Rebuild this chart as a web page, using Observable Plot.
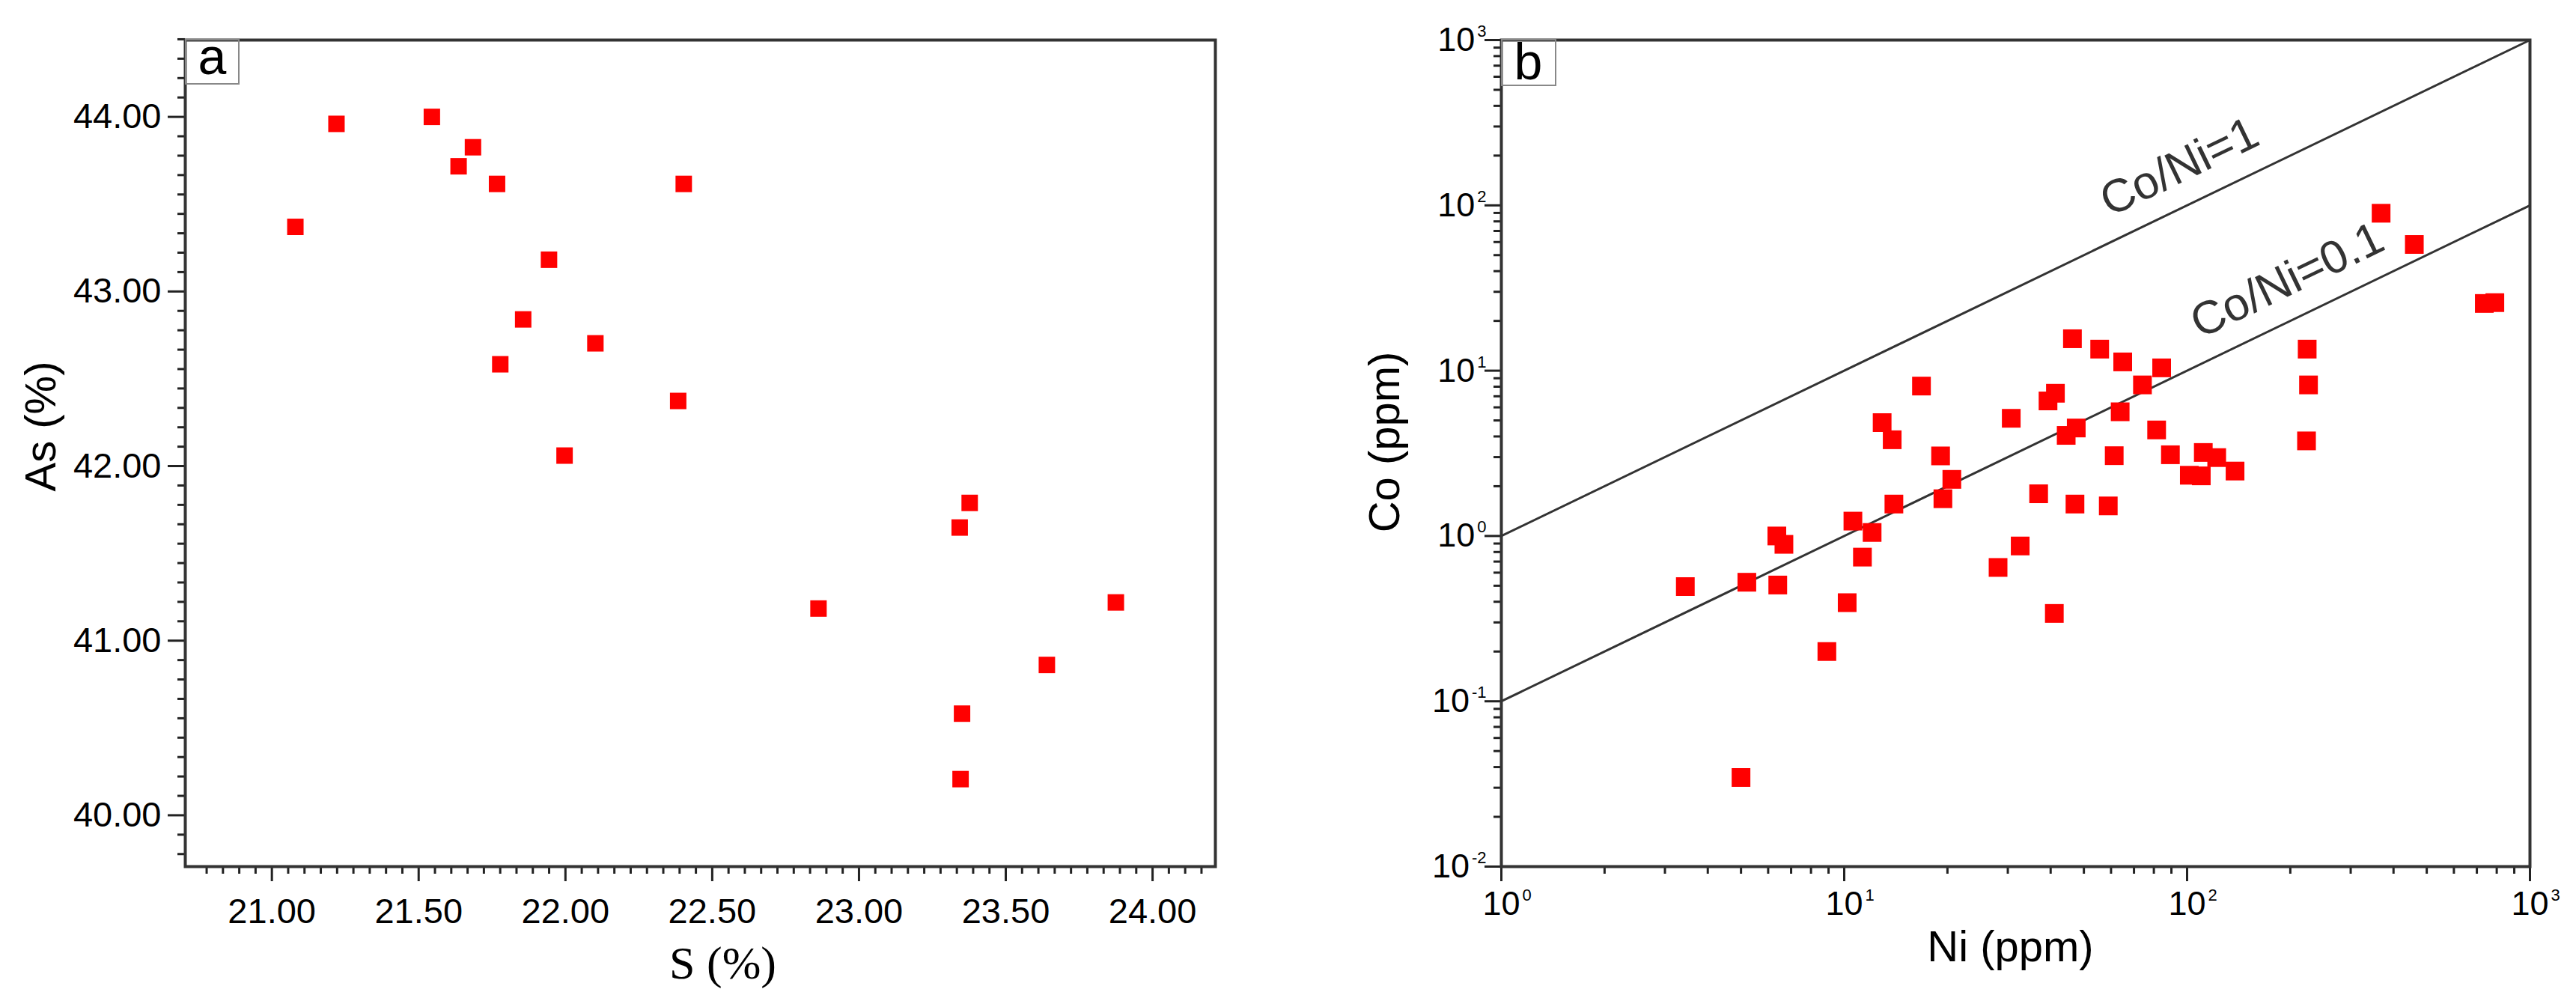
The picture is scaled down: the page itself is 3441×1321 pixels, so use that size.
<!DOCTYPE html>
<html><head><meta charset="utf-8">
<script src="https://cdn.jsdelivr.net/npm/d3@7"></script>
<script src="https://cdn.jsdelivr.net/npm/@observablehq/plot@0.6"></script>
<style>
html,body{margin:0;padding:0;background:#fff;}
#wrap{display:flex;width:3441px;height:1321px;}
</style></head><body><div id="wrap"></div>
<script>
// ---------- Panel a: S (%) vs As (%) ----------
const sulfur  = [21.08, 21.22, 21.545, 21.685, 21.636, 21.767, 22.403, 21.944, 21.856, 22.102,
                 21.778, 22.384, 21.997, 23.377, 23.343, 22.862, 23.875, 23.64, 23.351, 23.346];
const arsenic = [43.37, 43.96, 44.00, 43.826, 43.717, 43.616, 43.616, 43.182, 42.84, 42.703,
                 42.583, 42.373, 42.06, 41.789, 41.648, 41.184, 41.219, 40.861, 40.582, 40.207];
const sTicks  = [21, 21.5, 22, 22.5, 23, 23.5, 24];
const asTicks = [40, 41, 42, 43, 44];

// ---------- Panel b: Ni (ppm) vs Co (ppm) ----------
const nickel = [368, 460, 736, 790, 46.3, 55.6, 64.9, 84.3, 224, 226,
                223, 74.1, 16.8, 41.3, 39.3, 63.8, 30.7, 12.9, 47.5, 44.4,
                81.5, 13.8, 19.1, 61.3, 89.4, 111.5, 122, 138, 101.5, 110,
                20.6, 19.4, 36.9, 13.96, 47.1, 58.9, 10.6, 12.06, 6.36, 6.67,
                11.3, 32.6, 28.1, 3.44, 5.2, 6.4, 10.2, 41.0, 8.9, 5.0];
const cobalt = [89.6, 58, 25.5, 25.8, 15.6, 13.5, 11.3, 10.4, 13.5, 8.2,
                3.76, 8.2, 8.07, 7.3, 6.56, 5.64, 5.15, 4.85, 4.5, 4.06,
                4.38, 3.82, 3.05, 3.06, 3.1, 3.2, 2.98, 2.47, 2.33, 2.31,
                2.2, 1.68, 1.8, 1.56, 1.56, 1.52, 1.23, 1.05, 1.0, 0.89,
                0.745, 0.87, 0.645, 0.494, 0.525, 0.505, 0.395, 0.34, 0.2, 0.0346];
const niTicks = [1, 10, 100, 1000];
const coTicks = [0.01, 0.1, 1, 10, 100, 1000];
const ratios = [1, 0.1];
const ratioLabels = ["Co/Ni=1", "Co/Ni=0.1"];
const ratioLabelNi = [95, 196];
const lineNiEnds = [1, 1000];

const FONT = "'Liberation Sans', Arial, Helvetica, sans-serif";
const SERIF = "'Liberation Serif', 'Times New Roman', serif";
const INK = "#222";

// minor ticks: 8 between each pair of majors (linear), 2..9 per decade (log)
function linearMinors(majors, step, lo, hi) {
  const all = [];
  for (let m = majors[0] - step; m <= majors[majors.length - 1] + step; m += step)
    for (let k = 1; k <= 8; k++) all.push(m + k * step / 9);
  return all.filter(v => v >= lo && v <= hi);
}
function logMinors(majors) {
  const all = [];
  majors.slice(0, -1).forEach(m => { for (let k = 2; k <= 9; k++) all.push(m * k); });
  return all;
}

const ptsA = sulfur.map((s, i) => ({S: s, As: arsenic[i]}));
const ptsB = nickel.map((n, i) => ({Ni: n, Co: cobalt[i]}));
const lineData = ratios.flatMap(r => lineNiEnds.map(n => ({ratio: r, Ni: n, Co: n * r})));
const labelData = ratios.map((r, i) => ({Ni: ratioLabelNi[i], Co: ratioLabelNi[i] * r, t: ratioLabels[i]}));

const xDomA = [20.705, 24.214], yDomA = [39.706, 44.44];

const plotA = Plot.plot({
  width: 1700, height: 1321,
  marginLeft: 247, marginRight: 77, marginTop: 53, marginBottom: 164,
  style: {fontFamily: FONT, background: "white", overflow: "visible", color: "#000"},
  x: {domain: xDomA},
  y: {domain: yDomA},
  marks: [
    Plot.axisY({ticks: linearMinors(asTicks, 1, 39.72, 44.45).filter(v => !asTicks.some(t => Math.abs(t - v) < 1e-6)),
      tickSize: 10, tickFormat: () => "", stroke: INK, strokeWidth: 3, label: null}),
    Plot.axisY({ticks: asTicks, tickSize: 23, tickPadding: 9, tickFormat: d => d.toFixed(2),
      fontSize: 47, stroke: INK, strokeWidth: 3, label: null}),
    Plot.axisX({ticks: linearMinors(sTicks, 0.5, 20.75, 24.2),
      tickSize: 10, tickFormat: () => "", stroke: INK, strokeWidth: 3, label: null}),
    Plot.axisX({ticks: sTicks, tickSize: 20, tickPadding: 22, tickFormat: d => d.toFixed(2),
      fontSize: 47, stroke: INK, strokeWidth: 3, label: null}),
    Plot.frame({stroke: "#333", strokeWidth: 4}),
    Plot.dot(ptsA, {x: "S", y: "As", symbol: "square", r: 12.4, fill: "#f00", stroke: "none"}),
    Plot.text(["As (%)"], {text: d => d, frameAnchor: "left", textAnchor: "middle", lineAnchor: "middle",
      dx: -192, dy: -36, rotate: -90, fontSize: 58}),
    Plot.text(["S (%)"], {text: d => d, frameAnchor: "bottom", textAnchor: "middle", lineAnchor: "middle",
      dx: 30, dy: 130, fontSize: 62, fontFamily: SERIF}),
    Plot.text(["a"], {text: d => d, frameAnchor: "top-left", textAnchor: "middle", lineAnchor: "middle",
      dx: 36, dy: 24, fontSize: 68})
  ]
});

const plotB = Plot.plot({
  width: 1741, height: 1321,
  marginLeft: 305, marginRight: 62, marginTop: 53, marginBottom: 164,
  style: {fontFamily: FONT, background: "white", overflow: "visible", color: "#000"},
  x: {type: "log", domain: [1, 1000]},
  y: {type: "log", domain: [0.01, 1000]},
  marks: [
    Plot.axisY({ticks: logMinors(coTicks), tickSize: 10, tickFormat: () => "", stroke: INK, strokeWidth: 3, label: null}),
    Plot.axisY({ticks: coTicks, tickSize: 22, tickPadding: -2, tickFormat: d => "10^" + Math.round(Math.log10(d)),
      fontSize: 45, stroke: INK, strokeWidth: 3, label: null}),
    Plot.axisX({ticks: logMinors(niTicks), tickSize: 10, tickFormat: () => "", stroke: INK, strokeWidth: 3, label: null}),
    Plot.axisX({ticks: niTicks, tickSize: 20, tickPadding: 13, tickFormat: d => "10^" + Math.round(Math.log10(d)),
      fontSize: 45, stroke: INK, strokeWidth: 3, label: null}),
    Plot.frame({stroke: "#333", strokeWidth: 4}),
    Plot.line(lineData, {x: "Ni", y: "Co", z: "ratio", stroke: "#333", strokeWidth: 3}),
    Plot.dot(ptsB, {x: "Ni", y: "Co", symbol: "square", r: 14.1, fill: "#f00", stroke: "none"}),
    Plot.text(labelData, {x: "Ni", y: "Co", text: "t", rotate: -25.74, dy: -56, fontSize: 62, fill: "#333"}),
    Plot.text(["Co (ppm)"], {text: d => d, frameAnchor: "left", textAnchor: "middle", lineAnchor: "middle",
      dx: -155, dy: -15, rotate: -90, fontSize: 58, letterSpacing: 3}),
    Plot.text(["Ni (ppm)"], {text: d => d, frameAnchor: "bottom", textAnchor: "middle", lineAnchor: "middle",
      dx: -7, dy: 108, fontSize: 58}),
    Plot.text(["b"], {text: d => d, frameAnchor: "top-left", textAnchor: "middle", lineAnchor: "middle",
      dx: 36, dy: 31, fontSize: 68})
  ]
});

const NS = "http://www.w3.org/2000/svg";
function supLabels(svg, axis) {
  svg.querySelectorAll(`g[aria-label="${axis}-axis tick label"] text`).forEach(t => {
    const s = t.textContent;
    if (!s.includes("^")) return;
    const [b, e] = s.split("^");
    t.textContent = b;
    const ts = document.createElementNS(NS, "tspan");
    ts.setAttribute("font-size", "22");
    ts.setAttribute("dy", "-19");
    ts.setAttribute("dx", "3");
    ts.textContent = e;
    t.appendChild(ts);
    if (axis === "x") { t.setAttribute("text-anchor", "start"); t.setAttribute("dx", "-25"); }
  });
}
function labelBox(svg, x, y, w, h) {
  const r = document.createElementNS(NS, "rect");
  r.setAttribute("x", x); r.setAttribute("y", y);
  r.setAttribute("width", w); r.setAttribute("height", h);
  r.setAttribute("fill", "none"); r.setAttribute("stroke", "#888"); r.setAttribute("stroke-width", "2");
  svg.appendChild(r);
}
const svgA = plotA.tagName.toLowerCase() === "svg" ? plotA : plotA.querySelector("svg");
const svgB = plotB.tagName.toLowerCase() === "svg" ? plotB : plotB.querySelector("svg");
supLabels(svgB, "x");
supLabels(svgB, "y");
labelBox(svgA, 248, 53, 71, 59);
labelBox(svgB, 306, 53, 72, 61);

const wrap = document.getElementById("wrap");
wrap.appendChild(plotA);
wrap.appendChild(plotB);
</script>
</body></html>
